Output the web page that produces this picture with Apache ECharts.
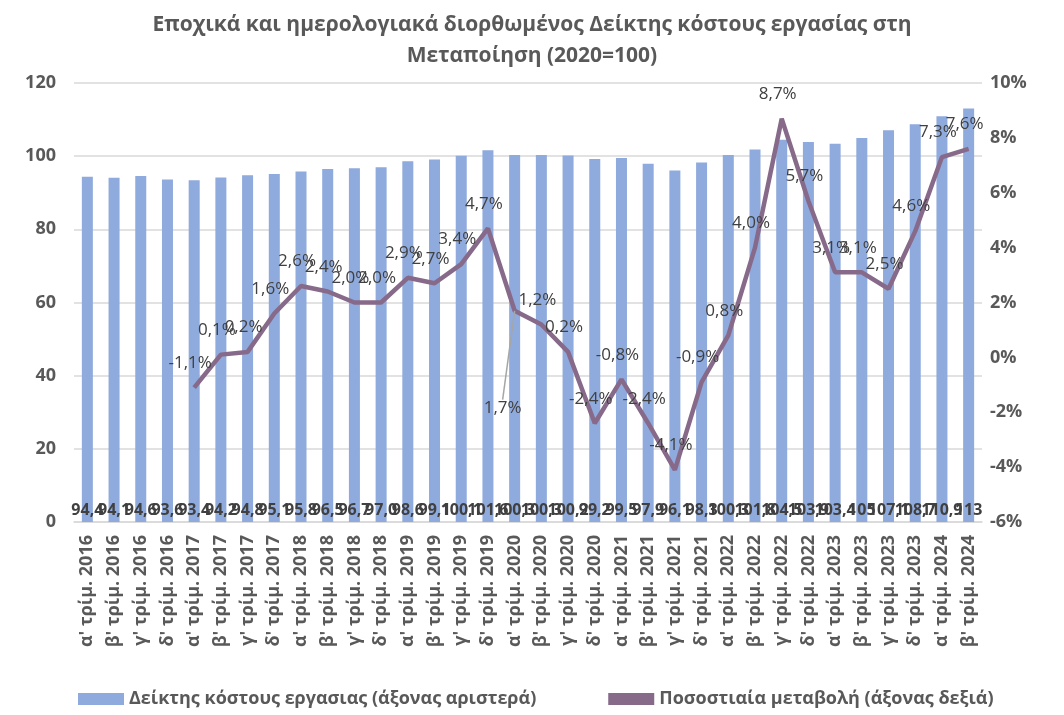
<!DOCTYPE html>
<html>
<head>
<meta charset="utf-8">
<script src="https://cdn.jsdelivr.net/npm/echarts@6/dist/echarts.min.js"></script>
<style>
  html, body { margin: 0; padding: 0; background: #fff; }
  #chart { width: 1064px; height: 715px; }
</style>
</head>
<body>
<div id="chart"></div>
<script>
// κατηγορίες (τρίμηνα)
const quarters = ["α' τρίμ.", "β' τρίμ.", "γ' τρίμ.", "δ' τρίμ."];
const categories = [];
for (let y = 2016; y <= 2024; y++) {
  for (let q = 0; q < 4; q++) {
    if (y === 2024 && q > 1) break;
    categories.push(quarters[q] + ' ' + y);
  }
}

// Δείκτης κόστους εργασίας (αριστερός άξονας)
const indexValues = [
  94.4, 94.1, 94.6, 93.6, 93.4, 94.2, 94.8, 95.1,
  95.8, 96.5, 96.7, 97.0, 98.6, 99.1, 100.1, 101.6,
  100.3, 100.3, 100.2, 99.2, 99.5, 97.9, 96.1, 98.3,
  100.3, 101.8, 104.5, 103.9, 103.4, 105, 107.1, 108.7,
  110.9, 113
];

// Ποσοστιαία μεταβολή (δεξιός άξονας), από α' τρίμ. 2017
const changeValues = [
  null, null, null, null,
  -1.1, 0.1, 0.2, 1.6, 2.6, 2.4, 2.0, 2.0,
  2.9, 2.7, 3.4, 4.7, 1.7, 1.2, 0.2, -2.4,
  -0.8, -2.4, -4.1, -0.9, 0.8, 4.0, 8.7, 5.7,
  3.1, 3.1, 2.5, 4.6, 7.3, 7.6
];

const leftTicks = { min: 0, max: 120, interval: 20 };
const rightTicks = { min: -6, max: 10, interval: 2 };

const fmt = (v, d) => v.toFixed(d).replace('.', ',');
const barText = v => (Number.isInteger(v) && v > 100 ? String(v) : fmt(v, 1));

const lineColor = '#876a8a';
const chart = echarts.init(document.getElementById('chart'));

const option = {
  backgroundColor: '#fff',
  textStyle: { fontFamily: 'Open Sans, Noto Sans, sans-serif' },
  title: {
    text: 'Εποχικά και ημερολογιακά διορθωμένος Δείκτης κόστους εργασίας στη\nΜεταποίηση (2020=100)',
    left: 'center',
    top: 5,
    textStyle: { fontSize: 21, fontWeight: 'bold', color: '#595959', lineHeight: 31 }
  },
  legend: {
    bottom: 2,
    left: 73,
    itemGap: 72,
    itemWidth: 46,
    itemHeight: 12,
    textStyle: { fontSize: 18, fontWeight: 'bold', color: '#595959' },
    data: [
      { name: 'Δείκτης κόστους εργασιας (άξονας αριστερά)', icon: 'rect' },
      { name: 'Ποσοστιαία μεταβολή (άξονας δεξιά)', icon: 'rect', itemStyle: { color: lineColor } }
    ]
  },
  grid: { left: 74, right: 82, top: 83, bottom: 193 },
  xAxis: {
    type: 'category',
    data: categories,
    axisTick: { show: false },
    axisLine: { lineStyle: { color: '#d9d9d9', width: 1.5 } },
    axisLabel: {
      rotate: 90,
      interval: 0,
      fontSize: 18,
      fontWeight: 'bold',
      color: '#595959',
      margin: 13
    }
  },
  yAxis: [
    {
      type: 'value',
      min: leftTicks.min, max: leftTicks.max, interval: leftTicks.interval,
      axisLine: { show: false },
      axisTick: { show: false },
      splitLine: { lineStyle: { color: '#d9d9d9', width: 1.5 } },
      axisLabel: { fontSize: 18, fontWeight: 'bold', color: '#595959', margin: 18 }
    },
    {
      type: 'value',
      min: rightTicks.min, max: rightTicks.max, interval: rightTicks.interval,
      axisLine: { show: false },
      axisTick: { show: false },
      splitLine: { show: false },
      axisLabel: {
        fontSize: 18, fontWeight: 'bold', color: '#595959', margin: 8,
        formatter: v => v + '%'
      }
    }
  ],
  series: [
    {
      name: 'Δείκτης κόστους εργασιας (άξονας αριστερά)',
      type: 'bar',
      data: indexValues,
      barWidth: 11,
      itemStyle: { color: '#8faadc' },
      label: {
        show: true,
        position: 'insideBottom',
        distance: 4,
        fontSize: 16,
        fontWeight: 'bold',
        color: '#404040',
        formatter: p => barText(p.value)
      }
    },
    {
      name: 'Ποσοστιαία μεταβολή (άξονας δεξιά)',
      type: 'line',
      yAxisIndex: 1,
      data: changeValues.map((v, i) => i === 16
        ? { value: v, labelLine: { show: true, lineStyle: { color: '#a6a6a6', width: 1.5 } } }
        : v),
      symbol: 'circle',
      symbolSize: 0.1,
      lineStyle: { color: lineColor, width: 4.5 },
      itemStyle: { color: lineColor },
      z: 5,
      label: {
        show: true,
        position: 'top',
        distance: 16,
        fontSize: 17,
        color: '#404040',
        formatter: p => p.value == null ? '' : fmt(p.value, 1) + '%'
      },
      labelLayout: p => p.dataIndex === 16 ? { dy: 122, dx: -12 } : { dx: -4 }
    }
  ]
};

chart.setOption(option);
</script>
</body>
</html>
